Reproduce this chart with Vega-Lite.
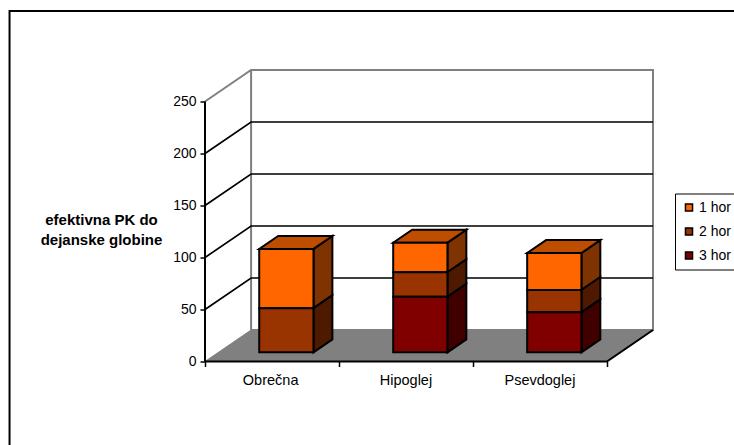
{
  "$schema": "https://vega.github.io/schema/vega-lite/v6.json",
  "width": 448,
  "height": 292,
  "autosize": "none",
  "padding": {"left": 205, "top": 69.5, "right": 81, "bottom": 83.5},
  "background": "white",
  "config": {
    "view": {"stroke": null},
    "font": "Liberation Sans",
    "axis": {"grid": false, "domain": false, "labelFont": "Liberation Sans", "labelFontSize": 14, "labelColor": "#000", "tickColor": "#000", "tickWidth": 1.5}
  },
  "datasets": {
    "results": [
      {"category": "Obrečna", "series": "1 hor", "value": 57},
      {"category": "Obrečna", "series": "2 hor", "value": 42.5},
      {"category": "Hipoglej", "series": "1 hor", "value": 28.5},
      {"category": "Hipoglej", "series": "2 hor", "value": 23.5},
      {"category": "Hipoglej", "series": "3 hor", "value": 53.5},
      {"category": "Psevdoglej", "series": "1 hor", "value": 35.5},
      {"category": "Psevdoglej", "series": "2 hor", "value": 21.5},
      {"category": "Psevdoglej", "series": "3 hor", "value": 38.5}
    ],
    "floor": [
      {"depth": 0, "start": 0, "end": 3},
      {"depth": 1, "start": 0, "end": 3}
    ],
    "gridlines": [
      {"level": 50, "span": 0, "depth": 0}, {"level": 50, "span": 0, "depth": 1}, {"level": 50, "span": 3, "depth": 1},
      {"level": 100, "span": 0, "depth": 0}, {"level": 100, "span": 0, "depth": 1}, {"level": 100, "span": 3, "depth": 1},
      {"level": 150, "span": 0, "depth": 0}, {"level": 150, "span": 0, "depth": 1}, {"level": 150, "span": 3, "depth": 1},
      {"level": 200, "span": 0, "depth": 0}, {"level": 200, "span": 0, "depth": 1}, {"level": 200, "span": 3, "depth": 1}
    ],
    "wallEdges": [
      {"step": 0, "level": 250, "span": 0, "depth": 0},
      {"step": 1, "level": 250, "span": 0, "depth": 1},
      {"step": 2, "level": 250, "span": 3, "depth": 1},
      {"step": 3, "level": 0, "span": 3, "depth": 1},
      {"step": 4, "level": 0, "span": 0, "depth": 1},
      {"step": 5, "level": 250, "span": 0, "depth": 1}
    ],
    "axisEdges": [
      {"edge": "value", "step": 0, "level": 0, "span": 0, "depth": 0},
      {"edge": "value", "step": 1, "level": 250, "span": 0, "depth": 0},
      {"edge": "floor", "step": 0, "level": 0, "span": 0, "depth": 0},
      {"edge": "floor", "step": 1, "level": 0, "span": 3, "depth": 0},
      {"edge": "floor", "step": 2, "level": 0, "span": 3, "depth": 1}
    ],
    "border": [{"left": -1.459, "right": 4.3, "top": 337, "bottom": -95}]
  },
  "layer": [
    {
      "data": {"name": "floor"},
      "transform": [
        {"calculate": "datum.depth * 30.3", "as": "py"},
        {"calculate": "datum.start + datum.depth * 0.344", "as": "px0"},
        {"calculate": "datum.end + datum.depth * 0.344", "as": "px1"}
      ],
      "mark": {"type": "area", "orient": "horizontal", "fill": "#808080", "stroke": "#808080"},
      "encoding": {
        "y": {"field": "py", "type": "quantitative", "scale": {"domain": [0, 280.77], "nice": false, "zero": false},
          "axis": {"values": [0, 50, 100, 150, 200, 250], "tickSize": 5, "labelPadding": 4,
            "title": ["efektivna PK do", "dejanske globine"], "titleAngle": 0, "titleFont": "Liberation Sans", "titleFontSize": 15, "titleFontWeight": "bold", "titleColor": "#000", "titleAlign": "center", "titleBaseline": "middle", "titleX": -104, "titleY": 150, "titleLineHeight": 20}},
        "x": {"field": "px0", "type": "quantitative", "scale": {"domain": [0, 3.344], "nice": false, "zero": false},
          "axis": {"values": [0, 1, 2, 3], "labels": false, "tickSize": 5, "title": null, "orient": "bottom"}},
        "x2": {"field": "px1"}
      }
    },
    {
      "data": {"name": "wallEdges"},
      "transform": [
        {"calculate": "datum.span + datum.depth * 0.344", "as": "px"},
        {"calculate": "datum.level + datum.depth * 30.3", "as": "py"}
      ],
      "mark": {"type": "line", "stroke": "#808080", "strokeWidth": 2},
      "encoding": {
        "x": {"field": "px", "type": "quantitative", "axis": null},
        "y": {"field": "py", "type": "quantitative", "axis": null},
        "order": {"field": "step"}
      }
    },
    {
      "data": {"name": "gridlines"},
      "transform": [
        {"calculate": "datum.span + datum.depth * 0.344", "as": "px"},
        {"calculate": "datum.level + datum.depth * 30.3", "as": "py"}
      ],
      "mark": {"type": "line", "stroke": "#000", "strokeWidth": 1.7},
      "encoding": {
        "x": {"field": "px", "type": "quantitative", "axis": null},
        "y": {"field": "py", "type": "quantitative", "axis": null},
        "detail": {"field": "level"}
      }
    },
    {
      "data": {"name": "axisEdges"},
      "transform": [
        {"calculate": "datum.span + datum.depth * 0.344", "as": "px"},
        {"calculate": "datum.level + datum.depth * 30.3", "as": "py"}
      ],
      "mark": {"type": "line", "stroke": "#000", "strokeWidth": 2},
      "encoding": {
        "x": {"field": "px", "type": "quantitative", "axis": null},
        "y": {"field": "py", "type": "quantitative", "axis": null},
        "detail": {"field": "edge"},
        "order": {"field": "step"}
      }
    },
    {
      "data": {"name": "results"},
      "transform": [
        {"stack": "value", "groupby": ["category"], "sort": [{"field": "series", "order": "descending"}], "as": ["v0", "v1"]},
        {"calculate": "indexof(['Obrečna','Hipoglej','Psevdoglej'], datum.category)", "as": "slot"},
        {"calculate": "[0.29, 0.70]", "as": "plane"},
        {"flatten": ["plane"]},
        {"calculate": "datum.slot + 0.71 + datum.plane * 0.344", "as": "px"},
        {"calculate": "datum.v0 + datum.plane * 30.3", "as": "py0"},
        {"calculate": "datum.v1 + datum.plane * 30.3", "as": "py1"}
      ],
      "mark": {"type": "area", "stroke": "#000", "strokeWidth": 2},
      "encoding": {
        "x": {"field": "px", "type": "quantitative", "axis": null},
        "y": {"field": "py0", "type": "quantitative", "axis": null},
        "y2": {"field": "py1"},
        "detail": {"field": "category"},
        "color": {"field": "series", "type": "nominal", "legend": null,
          "scale": {"domain": ["1 hor", "2 hor", "3 hor"], "range": ["#7F3300", "#4D1A00", "#400000"]}}
      }
    },
    {
      "data": {"name": "results"},
      "transform": [
        {"stack": "value", "groupby": ["category"], "sort": [{"field": "series", "order": "descending"}], "as": ["v0", "v1"]},
        {"filter": "datum.series === '1 hor'"},
        {"calculate": "indexof(['Obrečna','Hipoglej','Psevdoglej'], datum.category)", "as": "slot"},
        {"calculate": "[0.29, 0.70]", "as": "plane"},
        {"flatten": ["plane"]},
        {"calculate": "datum.slot + 0.305 + datum.plane * 0.344", "as": "px0"},
        {"calculate": "datum.slot + 0.71 + datum.plane * 0.344", "as": "px1"},
        {"calculate": "datum.v1 + datum.plane * 30.3", "as": "py"}
      ],
      "mark": {"type": "area", "orient": "horizontal", "stroke": "#000", "strokeWidth": 2, "fill": "#BF4D00"},
      "encoding": {
        "y": {"field": "py", "type": "quantitative", "axis": null},
        "x": {"field": "px0", "type": "quantitative", "axis": null},
        "x2": {"field": "px1"},
        "detail": {"field": "category"}
      }
    },
    {
      "data": {"name": "results"},
      "transform": [
        {"stack": "value", "groupby": ["category"], "sort": [{"field": "series", "order": "descending"}], "as": ["v0", "v1"]},
        {"calculate": "indexof(['Obrečna','Hipoglej','Psevdoglej'], datum.category)", "as": "slot"},
        {"calculate": "datum.slot + 0.305 + 0.29 * 0.344", "as": "px0"},
        {"calculate": "datum.slot + 0.71 + 0.29 * 0.344", "as": "px1"},
        {"calculate": "datum.v0 + 0.29 * 30.3", "as": "py0"},
        {"calculate": "datum.v1 + 0.29 * 30.3", "as": "py1"}
      ],
      "mark": {"type": "rect", "stroke": "#000", "strokeWidth": 2},
      "encoding": {
        "x": {"field": "px0", "type": "quantitative", "axis": null},
        "x2": {"field": "px1"},
        "y": {"field": "py0", "type": "quantitative", "axis": null},
        "y2": {"field": "py1"},
        "color": {"field": "series", "type": "nominal",
          "scale": {"domain": ["1 hor", "2 hor", "3 hor"], "range": ["#FF6600", "#993300", "#800000"]},
          "legend": {"orient": "none", "legendX": 470, "legendY": 124, "title": null, "strokeColor": "#000", "fillColor": "#fff", "padding": 7, "symbolType": "square", "symbolSize": 50, "symbolStrokeColor": "#000", "symbolStrokeWidth": 1.5, "labelFont": "Liberation Sans", "labelFontSize": 14, "labelColor": "#000", "rowPadding": 10, "labelOffset": 3}}
      }
    },
    {
      "data": {"values": [{"category": "Obrečna", "mid": 0.49}, {"category": "Hipoglej", "mid": 1.5}, {"category": "Psevdoglej", "mid": 2.5}]},
      "mark": {"type": "text", "fontSize": 14.5, "font": "Liberation Sans", "color": "#000", "baseline": "middle", "dy": 19},
      "encoding": {
        "x": {"field": "mid", "type": "quantitative", "axis": null},
        "y": {"datum": 0, "type": "quantitative", "axis": null},
        "text": {"field": "category"}
      }
    },
    {
      "data": {"name": "border"},
      "mark": {"type": "rect", "fill": null, "stroke": "#000", "strokeWidth": 2},
      "encoding": {
        "x": {"field": "left", "type": "quantitative", "axis": null},
        "x2": {"field": "right"},
        "y": {"field": "top", "type": "quantitative", "axis": null},
        "y2": {"field": "bottom"}
      }
    }
  ],
  "resolve": {"scale": {"color": "independent"}, "axis": {"x": "independent", "y": "independent"}}
}
